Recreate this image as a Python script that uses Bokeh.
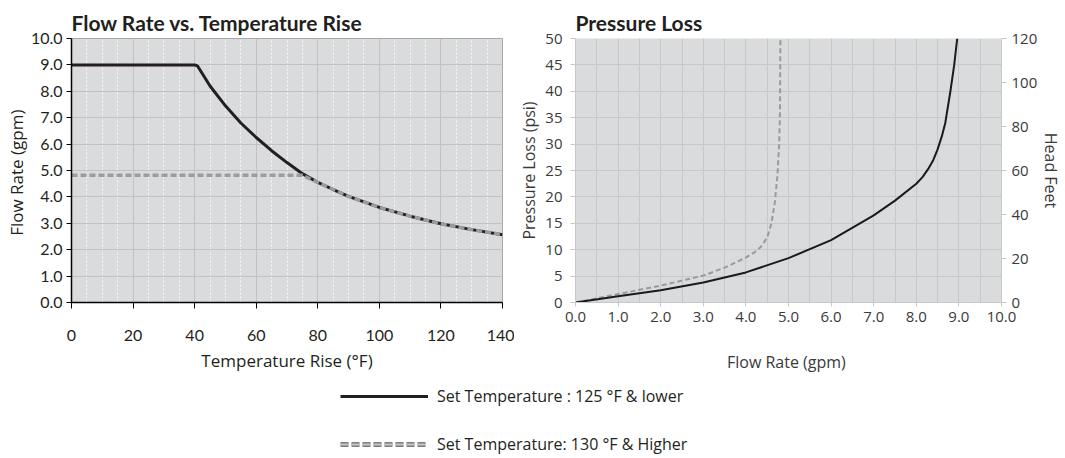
from bokeh.plotting import figure
from bokeh.models import (Range1d, LinearAxis, FixedTicker, PrintfTickFormatter,
                          Legend, LegendItem, ColumnDataSource)
from bokeh.layouts import row, column
from bokeh.embed import file_html
from bokeh.resources import INLINE

# ---------------- data: Flow Rate vs. Temperature Rise ----------------
temp_low = [0, 40, 41, 45, 50, 55, 60, 65, 70, 75, 80, 85, 90, 100, 110, 120, 130, 140]
flow_low = [9.0, 9.0, 8.95, 8.2, 7.45, 6.8, 6.25, 5.75, 5.3, 4.88, 4.55, 4.28, 4.02, 3.6, 3.27, 2.98, 2.76, 2.57]
temp_high = [0, 75, 80, 85, 90, 100, 110, 120, 130, 140]
flow_high = [4.82, 4.82, 4.55, 4.28, 4.02, 3.6, 3.27, 2.98, 2.76, 2.57]
temp_ticks = [0, 20, 40, 60, 80, 100, 120, 140]
temp_minor = [5, 10, 15, 25, 30, 35, 45, 50, 55, 65, 70, 75, 85, 90, 95, 105, 110, 115, 125, 130, 135]
flow_ticks = [0, 1, 2, 3, 4, 5, 6, 7, 8, 9, 10]

# ---------------- data: Pressure Loss ----------------
pl_flow_low = [0, 1, 2, 3, 4, 5, 6, 7, 7.5, 8, 8.15, 8.28, 8.4, 8.5, 8.6, 8.68, 8.8, 8.89, 8.96]
pl_psi_low = [0, 1.2, 2.3, 3.8, 5.7, 8.4, 11.8, 16.5, 19.3, 22.5, 23.8, 25.3, 27, 29, 31.5, 34, 40, 45, 50]
pl_flow_high = [0, 1, 2, 3, 3.5, 4, 4.2, 4.35, 4.5, 4.6, 4.68, 4.74, 4.78, 4.8, 4.81]
pl_psi_high = [0, 1.6, 3.2, 5.1, 6.6, 8.5, 9.5, 10.5, 12.3, 15, 19, 24, 30, 36, 50]
pl_x_ticks = [0, 1, 2, 3, 4, 5, 6, 7, 8, 9, 10]
pl_x_minor = [0.5, 1.5, 2.5, 3.5, 4.5, 5.5, 6.5, 7.5, 8.5, 9.5]
psi_ticks = [0, 5, 10, 15, 20, 25, 30, 35, 40, 45, 50]
head_ticks = [0, 20, 40, 60, 80, 100, 120]

legend_labels = ["Set Temperature : 125 °F & lower", "Set Temperature: 130 °F & Higher"]

BG = "#dadbdc"
TXT = "#231f20"
TXT2 = "#3a3a3a"

# ---------------- left chart ----------------
p1 = figure(width=514, height=384, min_border_left=71, min_border_right=12,
            min_border_top=37, min_border_bottom=82,
            x_range=Range1d(0, 140), y_range=Range1d(0, 10),
            toolbar_location=None, output_backend="svg",
            background_fill_color=BG, border_fill_color="white",
            title="Flow Rate vs. Temperature Rise")
p1.title.text_font = "Lato"
p1.title.text_font_style = "bold"
p1.title.text_font_size = "21px"
p1.title.text_color = TXT
p1.title.standoff = 8
p1.title.align = "left"
p1.outline_line_color = "#a8a8a8"

p1.xaxis.ticker = FixedTicker(ticks=temp_ticks, minor_ticks=temp_minor)
p1.yaxis.ticker = FixedTicker(ticks=flow_ticks)
p1.yaxis.formatter = PrintfTickFormatter(format="%.1f")
for ax in (p1.xaxis, p1.yaxis):
    ax.axis_line_color = "black"
    ax.axis_line_width = 1.5
    ax.major_tick_line_color = "black"
    ax.major_tick_in = 0
    ax.minor_tick_line_color = None
    ax.major_label_text_font = "Lato"
    ax.major_label_text_font_size = "16px"
    ax.major_label_text_color = TXT
    ax.axis_label_text_font = "Open Sans"
    ax.axis_label_text_font_size = "17px"
    ax.axis_label_text_font_style = "normal"
    ax.axis_label_text_color = TXT
p1.xaxis.major_tick_out = 6
p1.xaxis.major_label_standoff = 21
p1.xaxis.axis_label = "Temperature Rise (°F)"
p1.xaxis.axis_label_standoff = 5
p1.yaxis.major_tick_out = 5
p1.yaxis.major_label_standoff = 4
p1.yaxis.axis_label = "Flow Rate  (gpm)"
p1.yaxis.axis_label_standoff = 0

p1.xgrid.grid_line_color = "#c2c2c2"
p1.xgrid.minor_grid_line_color = "white"
p1.xgrid.minor_grid_line_dash = "2 2"
p1.xgrid.minor_grid_line_alpha = 0.8
p1.ygrid.grid_line_color = "#c2c2c2"

p1.line(temp_low, flow_low, line_color=TXT, line_width=3)
p1.line(temp_high, flow_high, line_color="#9c9c9c", line_width=3.5, line_dash="6 3")

# ---------------- right chart ----------------
p2 = figure(width=551, height=384, min_border_left=61, min_border_right=64,
            min_border_top=38, min_border_bottom=82,
            x_range=Range1d(0, 10), y_range=Range1d(0, 50),
            toolbar_location=None, output_backend="svg",
            background_fill_color=BG, border_fill_color="white",
            title="Pressure Loss")
p2.title.text_font = "Lato"
p2.title.text_font_style = "bold"
p2.title.text_font_size = "21px"
p2.title.text_color = TXT
p2.title.standoff = 8
p2.title.align = "left"
p2.outline_line_color = None
p2.extra_y_ranges = {"head": Range1d(0, 120)}

left_axis = p2.left[0]
left_axis.ticker = FixedTicker(ticks=psi_ticks)
head_axis = LinearAxis(y_range_name="head", ticker=FixedTicker(ticks=head_ticks),
                       axis_label="Head Feet")
p2.add_layout(head_axis, "right")
bottom_axis = p2.below[0]
bottom_axis.ticker = FixedTicker(ticks=pl_x_ticks, minor_ticks=pl_x_minor)
bottom_axis.formatter = PrintfTickFormatter(format="%.1f")

for ax in (left_axis, head_axis, bottom_axis):
    ax.axis_line_color = "#c8c8c8"
    ax.major_tick_line_color = "#c8c8c8"
    ax.major_tick_in = 0
    ax.minor_tick_line_color = None
    ax.major_label_text_font = "Open Sans"
    ax.major_label_text_font_size = "15px"
    ax.major_label_text_color = TXT2
    ax.axis_label_text_font = "Open Sans"
    ax.axis_label_text_font_size = "16px"
    ax.axis_label_text_font_style = "normal"
    ax.axis_label_text_color = TXT2
bottom_axis.major_tick_out = 4
bottom_axis.major_label_standoff = 5
bottom_axis.axis_label = "Flow Rate  (gpm)"
bottom_axis.axis_label_standoff = 26
left_axis.major_tick_out = 5
left_axis.major_label_standoff = 8
left_axis.axis_label = "Pressure Loss (psi)"
left_axis.axis_label_standoff = 2
head_axis.major_tick_out = 5
head_axis.major_label_standoff = 5
head_axis.axis_label_standoff = 0

p2.xgrid.grid_line_color = "#c8c8c8"
p2.xgrid.minor_grid_line_color = "#c8c8c8"
p2.ygrid.grid_line_color = "#c8c8c8"

p2.line(pl_flow_high, pl_psi_high, line_color="#9a9a9a", line_width=2, line_dash="5 3")
p2.line(pl_flow_low, pl_psi_low, line_color="#1a1a1a", line_width=2)

# ---------------- legend ----------------
pl = figure(width=760, height=72, x_range=Range1d(0, 1), y_range=Range1d(0, 1),
            toolbar_location=None, output_backend="svg", min_border=0)
pl.axis.visible = False
pl.grid.visible = False
pl.outline_line_color = None
nan = float("nan")
dummy = ColumnDataSource(data=dict(x=[nan, nan], y=[nan, nan]))
r1 = pl.line("x", "y", source=dummy, line_color=TXT, line_width=3)
r2a = pl.line("x", "y", source=dummy, line_color="#7e7e7e", line_width=5, line_dash="8 3")
r2b = pl.line("x", "y", source=dummy, line_color="#c4c4c4", line_width=2, line_dash="8 3")
leg = Legend(items=[LegendItem(label=legend_labels[0], renderers=[r1]),
                    LegendItem(label=legend_labels[1], renderers=[r2a, r2b])],
             location=(340, 1), glyph_width=88, glyph_height=22, label_height=22,
             label_standoff=9, spacing=26, padding=0, margin=0,
             border_line_color=None, background_fill_alpha=0,
             label_text_font="Open Sans", label_text_font_size="16px",
             label_text_color=TXT)
pl.add_layout(leg, "center")

layout = column(row(p1, p2), pl)
open("out.html", "w").write(file_html(layout, INLINE))
